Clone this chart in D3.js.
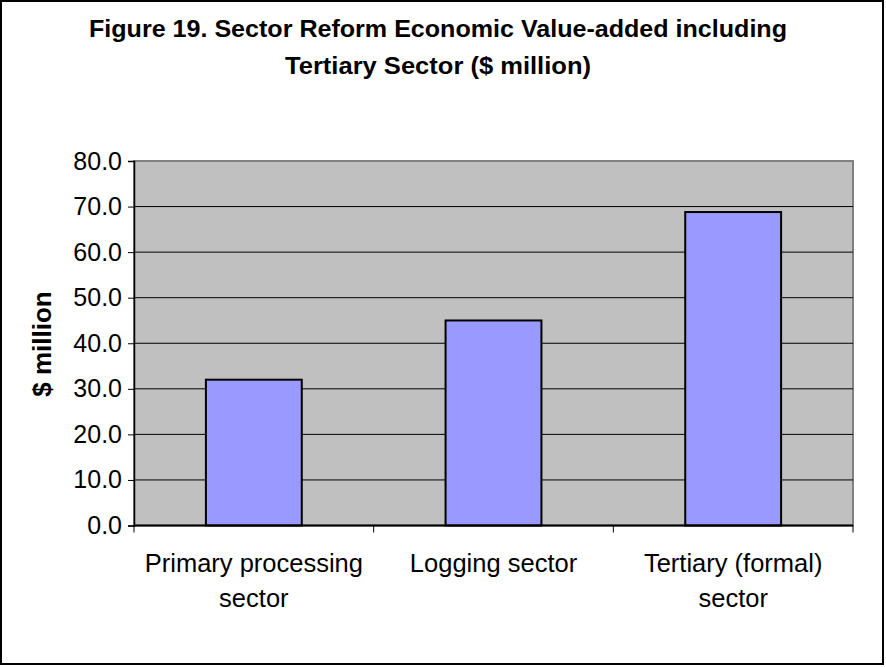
<!DOCTYPE html>
<html>
<head>
<meta charset="utf-8">
<script src="https://cdn.jsdelivr.net/npm/d3@7"></script>
<style>
  html, body { margin: 0; padding: 0; background: #fff; }
  svg { display: block; }
</style>
</head>
<body>
<script>
// Value-added by sector, $ million
const categories = [["Primary processing", "sector"], ["Logging sector"], ["Tertiary (formal)", "sector"]];
const values = [32.0, 45.0, 68.8];
const yTicks = [0, 10, 20, 30, 40, 50, 60, 70, 80];
const titleLines = ["Figure 19. Sector Reform Economic Value-added including", "Tertiary Sector ($ million)"];
const yTitle = "$ million";

const W = 886, H = 667;
const plot = { left: 134, right: 853, top: 161, bottom: 525.5 };
const FONT = "Liberation Sans, Arial, sans-serif";

const svg = d3.select("body").append("svg").attr("width", W).attr("height", H);

// outer frame
svg.append("rect").attr("x", 1).attr("y", 1).attr("width", W - 4).attr("height", H - 4)
  .attr("fill", "#fff").attr("stroke", "#000").attr("stroke-width", 2);

// title
svg.append("g").selectAll("text").data(titleLines).join("text")
  .attr("x", 438).attr("y", (d, i) => 37 + i * 37)
  .attr("text-anchor", "middle")
  .attr("font-family", FONT)
  .attr("font-weight", "bold").attr("font-size", 24)
  .attr("textLength", (d, i) => i === 0 ? 698 : 306)
  .attr("lengthAdjust", "spacingAndGlyphs")
  .text(d => d);

const x = d3.scaleBand().domain(d3.range(categories.length))
  .range([plot.left, plot.right]).paddingInner(0.6).paddingOuter(0.3);
const y = d3.scaleLinear().domain([0, 80]).range([plot.bottom, plot.top]);

// plot background
svg.append("rect").attr("x", plot.left).attr("y", plot.top)
  .attr("width", plot.right - plot.left).attr("height", plot.bottom - plot.top)
  .attr("fill", "#c0c0c0").attr("stroke", "#808080").attr("stroke-width", 2);

// gridlines
svg.append("g").selectAll("line").data(yTicks.filter(t => t > 0 && t < 80)).join("line")
  .attr("x1", plot.left).attr("x2", plot.right)
  .attr("y1", d => y(d)).attr("y2", d => y(d))
  .attr("stroke", "#000").attr("stroke-width", 1);

// bars
svg.append("g").selectAll("rect").data(values).join("rect")
  .attr("x", (d, i) => x(i)).attr("width", x.bandwidth())
  .attr("y", d => y(d)).attr("height", d => y(0) - y(d))
  .attr("fill", "#9999ff").attr("stroke", "#000").attr("stroke-width", 2);

// y axis
const yAxis = svg.append("g").attr("transform", `translate(${plot.left},0)`)
  .call(d3.axisLeft(y).tickValues(yTicks).tickFormat(d3.format(".1f")).tickSize(6).tickPadding(6));
yAxis.select(".domain").attr("stroke", "#000").attr("stroke-width", 1.5);
yAxis.selectAll(".tick line").attr("stroke", "#000");
yAxis.selectAll(".tick text")
  .attr("font-family", FONT).attr("font-size", 25).attr("fill", "#000");

// x axis with ticks at category boundaries
const step = (plot.right - plot.left) / categories.length;
const xb = svg.append("g");
xb.append("line").attr("x1", plot.left).attr("x2", plot.right)
  .attr("y1", plot.bottom).attr("y2", plot.bottom).attr("stroke", "#000").attr("stroke-width", 2);
xb.selectAll("line.tk").data(d3.range(categories.length + 1)).join("line").attr("class", "tk")
  .attr("x1", i => plot.left + i * step).attr("x2", i => plot.left + i * step)
  .attr("y1", plot.bottom).attr("y2", plot.bottom + 7).attr("stroke", "#000");
const labels = xb.selectAll("text").data(categories).join("text")
  .attr("text-anchor", "middle")
  .attr("font-family", FONT).attr("font-size", 25.5)
  .attr("transform", (d, i) => `translate(${x(i) + x.bandwidth() / 2},571.5)`);
labels.selectAll("tspan").data(d => d).join("tspan")
  .attr("x", 0).attr("dy", (d, i) => i === 0 ? 0 : 35.5).text(d => d);

// y axis title
svg.append("text")
  .attr("transform", "translate(51,344) rotate(-90)")
  .attr("text-anchor", "middle")
  .attr("font-family", FONT)
  .attr("font-weight", "bold").attr("font-size", 26)
  .text(yTitle);
</script>
</body>
</html>
